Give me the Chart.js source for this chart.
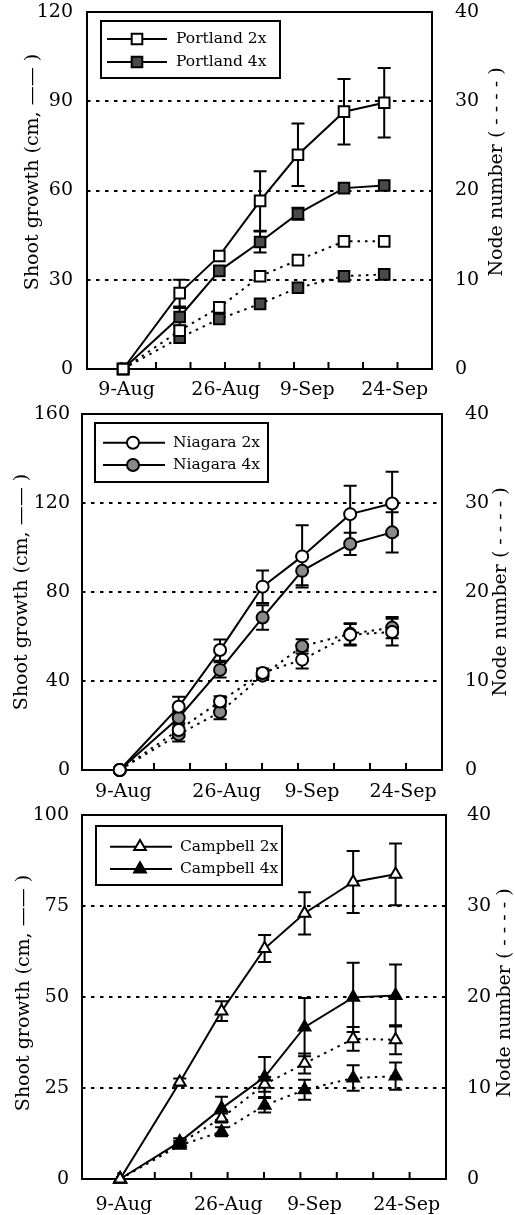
<!DOCTYPE html>
<html lang="en">
<head>
<meta charset="UTF-8">
<title>Shoot growth and node number</title>
<script src="https://cdn.jsdelivr.net/npm/chart.js"></script>
<style>
  body { margin: 0; background: #fff; }
  canvas { position: absolute; left: 0; }
</style>
</head>
<body>
<canvas id="portland" width="515" height="400" style="top:0"></canvas>
<canvas id="niagara" width="515" height="406" style="top:400px"></canvas>
<canvas id="campbell" width="515" height="415" style="top:800px"></canvas>
<script>
// sampling dates, as days after 9 Aug
const days = [-0.6, 9.1, 15.9, 22.9, 29.4, 37.3, 44.2];
const dateTicks = [0, 17, 31, 46];
const dateLabels = ['9-Aug', '26-Aug', '9-Sep', '24-Sep'];
const nodeTicks = [0, 10, 20, 30, 40];

// Portland
const portland2xShoot = [0, 25.5, 38, 56.5, 72, 86.5, 89.5];
const portland2xShootErr = [0, 4.5, 0, 10, 10.5, 11, 11.7];
const portland4xShoot = [0, 17.5, 33, 42.7, 52.2, 60.8, 61.7];
const portland4xShootErr = [0, 3, 0, 3.5, 2, 0, 0];
const portland2xNode = [0, 4.3, 6.9, 10.4, 12.2, 14.3, 14.3];
const portland4xNode = [0, 3.5, 5.6, 7.3, 9.1, 10.4, 10.6];

// Niagara
const niagara2xShoot = [0, 28.4, 53.9, 82.4, 96, 115, 119.8];
const niagara2xShootErr = [0, 4.5, 4.8, 7.3, 14, 12.8, 14.3];
const niagara4xShoot = [0, 23.5, 45, 68.5, 89.5, 101.6, 106.8];
const niagara4xShootErr = [0, 3, 3.4, 5.5, 6.5, 5, 9];
const niagara2xNode = [0, 4.5, 7.7, 10.9, 12.4, 15.2, 15.5];
const niagara2xNodeErr = [0, 0.8, 0.6, 0.5, 1.0, 1.2, 1.5];
const niagara4xNode = [0, 4.0, 6.5, 10.6, 13.9, 15.3, 16.0];
const niagara4xNodeErr = [0, 0.8, 0.8, 0.5, 0.8, 1.2, 1.2];

// Campbell
const campbell2xShoot = [0, 26.6, 46.1, 63.3, 73, 81.6, 83.7];
const campbell2xShootErr = [0, 1, 2.7, 3.7, 5.8, 8.5, 8.5];
const campbell4xShoot = [0, 10.2, 19.4, 28, 41.7, 49.9, 50.4];
const campbell4xShootErr = [0, 1, 3.2, 5.5, 8, 9.5, 8.5];
const campbell2xNode = [0, 3.9, 6.7, 10.4, 12.7, 15.4, 15.3];
const campbell2xNodeErr = [0, 0.3, 0.5, 0.8, 1.1, 1.3, 1.6];
const campbell4xNode = [0, 3.7, 5.2, 8.1, 9.8, 11.1, 11.3];
const campbell4xNodeErr = [0, 0.3, 0.5, 0.8, 1.1, 1.4, 1.5];

const FONT = '"DejaVu Serif", "Liberation Serif", serif';
Chart.defaults.font.family = FONT;
Chart.defaults.font.size = 19;
Chart.defaults.color = '#000';

function vText(ctx, text, x, y) {
  ctx.save();
  ctx.translate(x, y);
  ctx.rotate(-Math.PI / 2);
  ctx.textAlign = 'center';
  ctx.textBaseline = 'middle';
  ctx.fillText(text, 0, 0);
  ctx.restore();
}

function marker(ctx, style, r, x, y) {
  if (Chart.helpers && Chart.helpers.drawPoint) {
    Chart.helpers.drawPoint(ctx, { pointStyle: style, radius: r, rotation: 0, borderWidth: ctx.lineWidth }, x, y);
    return;
  }
  ctx.beginPath();
  if (style === 'circle') ctx.arc(x, y, r, 0, Math.PI * 2);
  else if (style === 'rect') { const s = r * Math.SQRT1_2; ctx.rect(x - s, y - s, 2 * s, 2 * s); }
  else { ctx.moveTo(x, y - r); ctx.lineTo(x + r * 0.866, y + r / 2); ctx.lineTo(x - r * 0.866, y + r / 2); ctx.closePath(); }
  ctx.fill();
  ctx.stroke();
}

function makeChart(id, cfg) {
  const lay = cfg.layout;
  const datasets = cfg.series.map(s => ({
    label: s.label,
    data: days.map((d, i) => ({ x: d, y: s.values[i] })),
    errors: s.errors,
    yAxisID: s.axis,
    borderColor: '#000',
    borderWidth: 2,
    borderDash: s.axis === 'y2' ? [2.5, 5] : [],
    pointStyle: cfg.marker,
    pointRadius: cfg.radius,
    pointHoverRadius: cfg.radius,
    pointBorderWidth: 2,
    pointBorderColor: '#000',
    pointBackgroundColor: s.filled ? cfg.fill : '#fff',
    tension: 0,
    clip: false
  }));

  const panel = {
    id: 'panel',
    beforeDatasetsDraw(chart) {
      const ctx = chart.ctx, a = chart.chartArea, xs = chart.scales.x;
      ctx.save();
      ctx.strokeStyle = '#000';
      ctx.lineWidth = 2;
      ctx.setLineDash([]);
      // frame
      ctx.strokeRect(a.left, a.top, a.right - a.left, a.bottom - a.top);
      // inward tick marks on the date axis
      ctx.beginPath();
      for (let k = 1; k < 10; k++) {
        const px = xs.getPixelForValue(xs.min + k * (xs.max - xs.min) / 10);
        ctx.moveTo(px, a.bottom);
        ctx.lineTo(px, a.bottom - 7);
      }
      ctx.stroke();
      // error bars
      chart.data.datasets.forEach((ds, i) => {
        if (!ds.errors) return;
        const meta = chart.getDatasetMeta(i);
        const ys = chart.scales[ds.yAxisID];
        ctx.beginPath();
        ds.data.forEach((p, j) => {
          const e = ds.errors[j];
          if (!e) return;
          const x = meta.data[j].x;
          const y1 = ys.getPixelForValue(p.y + e);
          const y2 = ys.getPixelForValue(p.y - e);
          ctx.moveTo(x, y1); ctx.lineTo(x, y2);
          ctx.moveTo(x - 6.5, y1); ctx.lineTo(x + 6.5, y1);
          ctx.moveTo(x - 6.5, y2); ctx.lineTo(x + 6.5, y2);
        });
        ctx.stroke();
      });
      ctx.restore();
    },
    afterDraw(chart) {
      const ctx = chart.ctx, lg = cfg.legend;
      ctx.save();
      ctx.fillStyle = '#000';
      ctx.font = '19px ' + FONT;
      vText(ctx, 'Shoot growth (cm, \u2014\u2014 )', cfg.titles.leftX, cfg.titles.y);
      vText(ctx, 'Node number ( - - - - )', cfg.titles.rightX, cfg.titles.y);
      // legend
      ctx.fillStyle = '#fff';
      ctx.fillRect(lg.x, lg.y, lg.w, lg.h);
      ctx.strokeStyle = '#000';
      ctx.lineWidth = 2;
      ctx.strokeRect(lg.x, lg.y, lg.w, lg.h);
      ctx.font = '15.5px ' + FONT;
      ctx.textBaseline = 'middle';
      ctx.textAlign = 'left';
      [0, 1].forEach(r => {
        const ds = datasets[r], y = lg.rows[r];
        ctx.beginPath();
        ctx.moveTo(lg.line[0], y);
        ctx.lineTo(lg.line[1], y);
        ctx.stroke();
        ctx.fillStyle = ds.pointBackgroundColor;
        marker(ctx, cfg.marker, cfg.radius, lg.mark, y);
        ctx.fillStyle = '#000';
        ctx.fillText(ds.label, lg.text, y);
      });
      ctx.restore();
    }
  };

  const fitV = w => s => { s.width = w; s.paddingTop = 0; s.paddingBottom = 0; };

  return new Chart(document.getElementById(id), {
    type: 'line',
    data: { datasets },
    plugins: [panel],
    options: {
      responsive: false,
      animation: false,
      events: [],
      layout: { padding: { top: lay.T, left: 0, right: 0, bottom: 0 } },
      plugins: { legend: { display: false }, tooltip: { enabled: false } },
      scales: {
        x: {
          type: 'linear',
          min: -6.8,
          max: 52.4,
          afterBuildTicks: s => { s.ticks = dateTicks.map(v => ({ value: v })); },
          afterFit: s => { s.height = lay.H - lay.B; s.paddingLeft = 0; s.paddingRight = 0; },
          grid: { display: false },
          border: { display: false },
          ticks: {
            autoSkip: false,
            maxRotation: 0,
            padding: lay.xPad,
            callback: v => dateLabels[dateTicks.indexOf(v)]
          }
        },
        y: {
          position: 'left',
          min: 0,
          max: cfg.yMax,
          afterFit: fitV(lay.L),
          grid: { color: '#000', lineWidth: 2, drawTicks: false },
          border: { display: false, dash: [3.5, 5.5] },
          ticks: { stepSize: cfg.yStep, padding: lay.yPad }
        },
        y2: {
          position: 'right',
          min: 0,
          max: 40,
          afterBuildTicks: s => { s.ticks = nodeTicks.map(v => ({ value: v })); },
          afterFit: fitV(515 - lay.R),
          grid: { display: false },
          border: { display: false },
          ticks: { padding: lay.y2Pad }
        }
      }
    }
  });
}

makeChart('portland', {
  yMax: 120, yStep: 30, marker: 'rect', radius: 7.5, fill: '#4a4a4a',
  layout: { T: 12, L: 87, R: 432, B: 369, H: 400, yPad: 14, y2Pad: 15, xPad: 2 },
  titles: { leftX: 33, rightX: 497, y: 172 },
  legend: { x: 101, y: 21, w: 179, h: 57, rows: [39, 62], line: [107, 167], mark: 137, text: 176 },
  series: [
    { label: 'Portland 2x', values: portland2xShoot, errors: portland2xShootErr, axis: 'y', filled: false },
    { label: 'Portland 4x', values: portland4xShoot, errors: portland4xShootErr, axis: 'y', filled: true },
    { label: 'Portland 2x node', values: portland2xNode, axis: 'y2', filled: false },
    { label: 'Portland 4x node', values: portland4xNode, axis: 'y2', filled: true }
  ]
});

makeChart('niagara', {
  yMax: 160, yStep: 40, marker: 'circle', radius: 6, fill: '#8a8a8a',
  layout: { T: 14, L: 82, R: 442, B: 370, H: 406, yPad: 12, y2Pad: 15, xPad: 3 },
  titles: { leftX: 22, rightX: 501, y: 192 },
  legend: { x: 95, y: 23, w: 173, h: 59, rows: [42.7, 65], line: [103, 165], mark: 133, text: 173 },
  series: [
    { label: 'Niagara 2x', values: niagara2xShoot, errors: niagara2xShootErr, axis: 'y', filled: false },
    { label: 'Niagara 4x', values: niagara4xShoot, errors: niagara4xShootErr, axis: 'y', filled: true },
    { label: 'Niagara 2x node', values: niagara2xNode, errors: niagara2xNodeErr, axis: 'y2', filled: false },
    { label: 'Niagara 4x node', values: niagara4xNode, errors: niagara4xNodeErr, axis: 'y2', filled: true }
  ]
});

makeChart('campbell', {
  yMax: 100, yStep: 25, marker: 'triangle', radius: 6.8, fill: '#000',
  layout: { T: 15, L: 82, R: 446, B: 379, H: 415, yPad: 13, y2Pad: 13, xPad: 7 },
  titles: { leftX: 24, rightX: 505, y: 193 },
  legend: { x: 96, y: 26, w: 186, h: 59, rows: [46.7, 69], line: [110, 172], mark: 140, text: 180 },
  series: [
    { label: 'Campbell 2x', values: campbell2xShoot, errors: campbell2xShootErr, axis: 'y', filled: false },
    { label: 'Campbell 4x', values: campbell4xShoot, errors: campbell4xShootErr, axis: 'y', filled: true },
    { label: 'Campbell 2x node', values: campbell2xNode, errors: campbell2xNodeErr, axis: 'y2', filled: false },
    { label: 'Campbell 4x node', values: campbell4xNode, errors: campbell4xNodeErr, axis: 'y2', filled: true }
  ]
});
</script>
</body>
</html>
